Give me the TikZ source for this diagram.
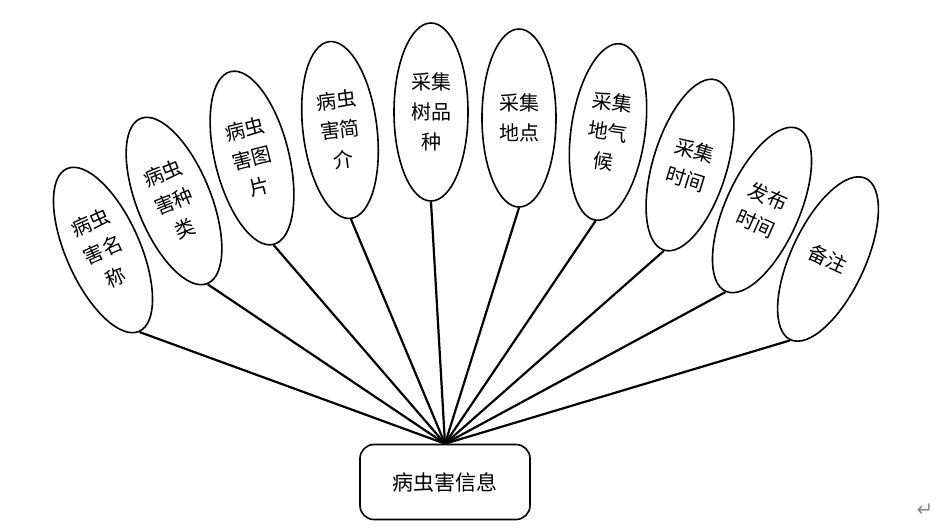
\documentclass[tikz,border=0pt]{standalone}
\usepackage{fontspec}
\newfontfamily\cjkfont{Noto Sans CJK SC}
\newfontfamily\markfont{DejaVu Sans}
\usetikzlibrary{shapes.geometric}

\begin{document}
\begin{tikzpicture}[
  x=1pt,
  y=-1pt,
  font=\cjkfont,
  line/.style={draw=black,line width=2.2pt},
  attr/.style={draw=black,line width=1.6pt,ellipse,inner sep=0pt,minimum width=74pt,minimum height=178pt,align=center,font=\cjkfont\fontsize{20}{30}\selectfont},
  entity/.style={draw=black,line width=1.6pt,rounded corners=14pt,minimum width=170pt,minimum height=75pt,font=\cjkfont\fontsize{21}{25}\selectfont}
]
\useasboundingbox (0,0) rectangle (951,528);

% Entity
\node[entity] (info) at (445,482) {病虫害信息};

% Attributes
\node[attr,rotate=24]  (name)    at (103,250) {病虫\\害名\\称};
\node[attr,rotate=22]  (kind)    at (174,201) {病虫\\害种\\类};
\node[attr,rotate=14]  (image)   at (252,158) {病虫\\害图\\片};
\node[attr,rotate=7]   (intro)   at (340,130) {病虫\\害简\\介};
\node[attr]            (tree)    at (431,112) {采集\\树品\\种};
\node[attr]            (place)   at (519,118) {采集\\地点};
\node[attr,rotate=-8]  (climate) at (608,132) {采集\\地气\\候};
\node[attr,rotate=-17] (gather)  at (690,165) {采集\\时间};
\node[attr,rotate=-24] (publish) at (762,210) {发布\\时间};
\node[attr,rotate=-25] (note)    at (828,259) {备注};

% Connectors
\draw[line] (name.south) -- (info.north);
\draw[line] (kind.south) -- (info.north);
\draw[line] (image.south) -- (info.north);
\draw[line] (intro.south) -- (info.north);
\draw[line] (tree.south) -- (info.north);
\draw[line] (place.south) -- (info.north);
\draw[line] (climate.south) -- (info.north);
\draw[line] (gather.south) -- (info.north);
\draw[line] (publish.south) -- (info.north);
\draw[line] (note.south) -- (info.north);

% Paragraph mark
\node[font=\markfont\fontsize{20}{20}\selectfont,text=black!45] (mark) at (925,510) {↵};

\end{tikzpicture}
\end{document}
